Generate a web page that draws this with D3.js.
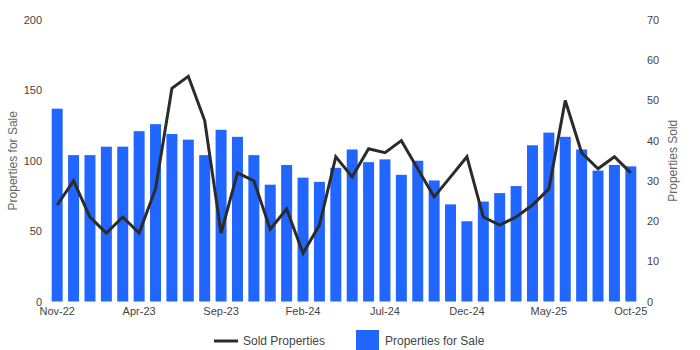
<!DOCTYPE html>
<html>
<head>
<meta charset="utf-8">
<script src="https://cdn.jsdelivr.net/npm/d3@7"></script>
<style>
  html, body { margin: 0; padding: 0; background: #fff; }
  svg { display: block; font-family: "Liberation Sans", Arial, sans-serif; }
</style>
</head>
<body>
<svg id="chart" width="700" height="350"></svg>
<script>
// Monthly listing data, Nov-22 through Oct-25
const months = [
  "Nov-22","Dec-22","Jan-23","Feb-23","Mar-23","Apr-23","May-23","Jun-23","Jul-23","Aug-23","Sep-23","Oct-23",
  "Nov-23","Dec-23","Jan-24","Feb-24","Mar-24","Apr-24","May-24","Jun-24","Jul-24","Aug-24","Sep-24","Oct-24",
  "Nov-24","Dec-24","Jan-25","Feb-25","Mar-25","Apr-25","May-25","Jun-25","Jul-25","Aug-25","Sep-25","Oct-25"
];
const forSale = [
  137, 104, 104, 110, 110, 121, 126, 119, 115, 104, 122, 117,
  104, 83, 97, 88, 85, 95, 108, 99, 101, 90, 100, 86,
  69, 57, 71, 77, 82, 111, 120, 117, 108, 93, 97, 96
];
const sold = [
  24, 30, 21, 17, 21, 17, 28, 53, 56, 45, 17, 32,
  30, 18, 23, 12, 19, 36, 31, 38, 37, 40, 33, 26,
  31, 36, 21, 19, 21, 24, 28, 50, 37, 33, 36, 32
];
const leftTicks = [0, 50, 100, 150, 200];
const rightTicks = [0, 10, 20, 30, 40, 50, 60, 70];
const xTickLabels = ["Nov-22","Apr-23","Sep-23","Feb-24","Jul-24","Dec-24","May-25","Oct-25"];

const svg = d3.select("#chart");
const margin = { left: 49, right: 61, top: 20, bottom: 49 };
const W = 700, H = 350;
const x0 = margin.left, x1 = W - margin.right;
const yTop = margin.top, yBot = H - margin.bottom + 0.5;

const barColor = "#2166fe";
const lineColor = "#2b2b2b";
const textColor = "#444";
const titleColor = "#666";

const x = d3.scaleBand().domain(months).range([x0, x1]).paddingInner(0.33).paddingOuter(0.165);
const yL = d3.scaleLinear().domain([0, 200]).range([yBot, yTop]);
const yR = d3.scaleLinear().domain([0, 70]).range([yBot, yTop]);

// Bars: properties for sale
svg.append("g").selectAll("rect")
  .data(forSale)
  .join("rect")
  .attr("x", (d, i) => x(months[i]))
  .attr("y", d => yL(d))
  .attr("width", x.bandwidth())
  .attr("height", d => yL(0) - yL(d))
  .attr("fill", barColor);

// Line: sold properties
const line = d3.line()
  .x((d, i) => x(months[i]) + x.bandwidth() / 2)
  .y(d => yR(d));
svg.append("path")
  .datum(sold)
  .attr("d", line)
  .attr("fill", "none")
  .attr("stroke", lineColor)
  .attr("stroke-width", 3)
  .attr("stroke-linejoin", "miter");

// Axes (labels only)
function styleAxis(g) {
  g.select(".domain").remove();
  g.selectAll(".tick line").remove();
  g.selectAll("text").attr("fill", textColor).style("font-size", "11px")
    .style("font-family", '"Liberation Sans", Arial, sans-serif');
}

svg.append("g")
  .attr("transform", `translate(${x0 - 7},0)`)
  .call(d3.axisLeft(yL).tickValues(leftTicks).tickSize(0).tickPadding(0))
  .call(styleAxis);

svg.append("g")
  .attr("transform", `translate(${x1 + 8},0)`)
  .call(d3.axisRight(yR).tickValues(rightTicks).tickSize(0).tickPadding(0))
  .call(styleAxis);

svg.append("g")
  .attr("transform", `translate(0,${yBot + 6})`)
  .call(d3.axisBottom(x).tickValues(xTickLabels).tickSize(0).tickPadding(0))
  .call(styleAxis)
  .selectAll("text").attr("dy", "0.71em");

// Axis titles
svg.append("text")
  .attr("transform", `translate(17,${(yTop + yBot) / 2}) rotate(-90)`)
  .attr("text-anchor", "middle")
  .attr("fill", titleColor)
  .style("font-size", "12px")
  .text("Properties for Sale");

svg.append("text")
  .attr("transform", `translate(677,${(yTop + yBot) / 2}) rotate(-90)`)
  .attr("text-anchor", "middle")
  .attr("fill", titleColor)
  .style("font-size", "12px")
  .text("Properties Sold");

// Legend
const legend = svg.append("g").attr("transform", "translate(0,341)");
legend.append("line")
  .attr("x1", 214).attr("x2", 238).attr("y1", 0).attr("y2", 0)
  .attr("stroke", lineColor).attr("stroke-width", 3);
legend.append("text")
  .attr("x", 243).attr("y", 0).attr("dy", "0.35em")
  .attr("fill", textColor).style("font-size", "12px")
  .text("Sold Properties");
legend.append("rect")
  .attr("x", 356).attr("y", -11).attr("width", 23).attr("height", 20)
  .attr("fill", barColor);
legend.append("text")
  .attr("x", 385).attr("y", 0).attr("dy", "0.35em")
  .attr("fill", textColor).style("font-size", "12px")
  .text("Properties for Sale");
</script>
</body>
</html>
